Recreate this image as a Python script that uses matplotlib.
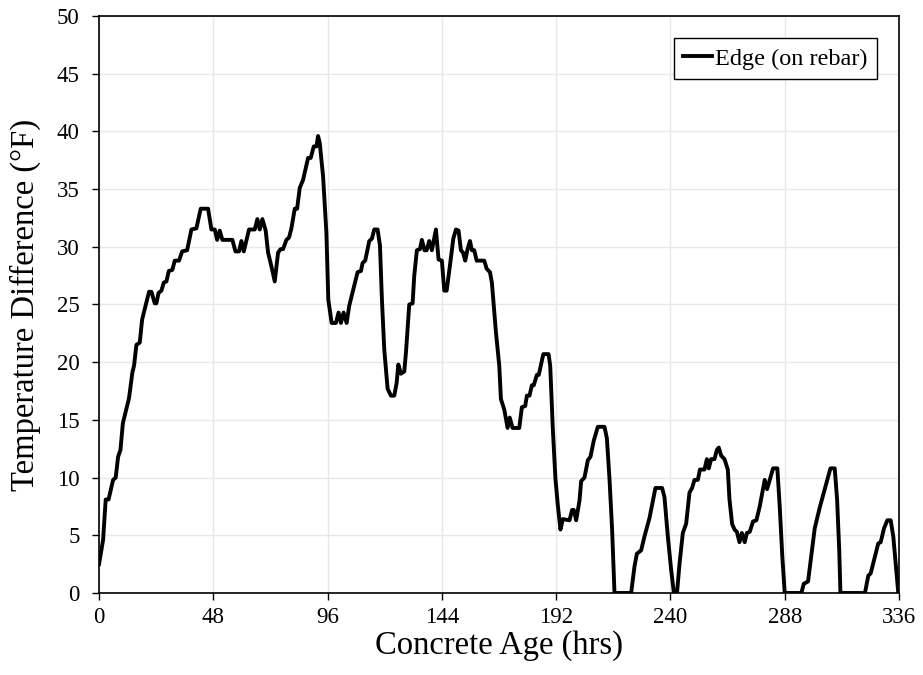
import numpy as np
import matplotlib.pyplot as plt

plt.rcParams['font.family'] = ['Liberation Serif', 'DejaVu Serif']

ageHrs = [0, 1.7, 2.8, 4, 5.9, 7, 8, 9, 10, 12.6, 14, 14.7, 15.7, 17.1, 18.1, 19.2, 21, 22,
          23.4, 24.1, 25, 26.2, 27.2, 28.3, 29.3, 30.8, 31.8, 33.6, 34.9, 37, 38.8, 40.9,
          42.7, 45.8, 47.2, 48.6, 49.6, 50.7, 51.8, 56, 57.3, 58.8, 59.8, 60.8, 63, 65.4,
          66.5, 67.5, 68.6, 70, 71, 72.4, 73.8, 75.2, 76.3, 77.3, 78.7, 79.8, 80.8, 82.2,
          83.2, 84.3, 85.7, 87.8, 88.9, 90.2, 91.3, 92, 92.7, 94.1, 95.5, 96.3, 97.7, 99.5,
          100.6, 101.6, 102.7, 104, 105.1, 106.8, 108.6, 110, 110.7, 111.8, 113.5, 114.6,
          115.6, 117, 118, 118.8, 119.8, 121.2, 122.6, 124, 125, 125.7, 126.8, 128.2, 128.9,
          130.3, 131.7, 132.4, 133.5, 134.8, 135.6, 136.7, 137.6, 138.7, 139.8, 141.5, 142.6,
          144, 145, 146, 147.4, 148.8, 149.9, 151, 152, 152.9, 153.8, 154.8, 155.8, 156.6,
          157.6, 158.6, 161.8, 162.8, 164.2, 165, 166.7, 168.1, 168.8, 170.2, 171.6, 172.5,
          173.7, 176.5, 177.6, 179, 179.7, 180.8, 181.8, 182.6, 183.9, 184.7, 186.6, 188.8,
          189.5, 190.6, 191.7, 192.7, 193.8, 194.8, 197.6, 198.7, 199.4, 200.4, 201.8, 202.5,
          203.9, 205.3, 206.4, 207.8, 209.5, 212.3, 213.3, 214.4, 215.5, 216.5, 223.5, 224.9,
          225.9, 227.7, 229.1, 231.2, 233.7, 236.5, 237.5, 238.9, 240.3, 241.4, 242.8, 243.8,
          245.2, 246.6, 248, 249.1, 250.1, 251.5, 252.4, 254.3, 255.3, 256.1, 257.1, 258.5,
          259.5, 260.3, 261.3, 262.7, 264.1, 264.8, 265.9, 266.9, 267.9, 269, 270, 271.2,
          272.1, 273.3, 274.7, 276.1, 277.5, 279.6, 280.6, 281.7, 283.1, 284.9, 285.9, 287,
          288, 295, 296, 297.8, 299.2, 300.6, 302.7, 305.5, 307.2, 309, 310, 310.9, 311.4,
          321.7, 323.1, 324.1, 325.2, 327.3, 328.3, 329.7, 331.1, 332.5, 333.6, 334.7, 335.7]
tempDiff = [2.5, 4.6, 8.1, 8.1, 9.8, 10, 11.8, 12.4, 14.7, 16.9, 19.1, 19.7, 21.5, 21.7, 23.7,
            24.6, 26.1, 26.1, 25.1, 25.1, 26, 26.2, 26.9, 27, 27.9, 28, 28.8, 28.8, 29.6, 29.7,
            31.5, 31.6, 33.3, 33.3, 31.5, 31.5, 30.6, 31.4, 30.6, 30.6, 29.6, 29.6, 30.5, 29.6,
            31.5, 31.5, 32.4, 31.5, 32.4, 31.4, 29.5, 28.3, 27, 29.5, 29.8, 29.8, 30.6, 30.8,
            31.6, 33.3, 33.3, 35.1, 35.8, 37.7, 37.7, 38.7, 38.7, 39.6, 39, 36.1, 31.2, 25.4,
            23.4, 23.4, 24.3, 23.4, 24.3, 23.4, 24.9, 26.3, 27.8, 27.9, 28.6, 28.8, 30.5, 30.7,
            31.5, 31.5, 30.1, 25.5, 21.1, 17.7, 17.1, 17.1, 18.2, 19.8, 19, 19.2, 20.8, 25,
            25.1, 27.5, 29.7, 29.8, 30.6, 29.7, 29.7, 30.5, 29.7, 31.5, 28.9, 28.8, 26.2, 26.2,
            28.4, 30.7, 31.5, 31.4, 29.7, 29.5, 28.8, 29.8, 30.5, 29.7, 29.7, 28.8, 28.8, 28.1,
            27.8, 26.9, 22.6, 19.7, 16.8, 15.9, 14.3, 15.2, 14.3, 14.3, 16.1, 16.2, 17.1, 17.1,
            18, 18, 18.9, 18.9, 20.7, 20.7, 19.7, 14.2, 9.9, 7.6, 5.5, 6.4, 6.3, 7.2, 7.2, 6.3,
            8, 9.7, 10, 11.5, 11.8, 13.2, 14.4, 14.4, 13.4, 9.9, 5.5, 0, 0, 2.3, 3.4, 3.7, 4.9,
            6.5, 9.1, 9.1, 8.3, 4.9, 2, 0.1, 0.1, 2.5, 5.2, 6, 8.7, 9.1, 9.8, 9.8, 10.7, 10.7,
            11.6, 10.8, 11.6, 11.6, 12.4, 12.6, 11.9, 11.6, 10.7, 8.1, 6, 5.5, 5.3, 4.4, 5.2,
            4.4, 5.2, 5.3, 6.2, 6.3, 7.5, 9.8, 9, 9.8, 10.8, 10.8, 7.5, 3.1, 0, 0, 0.8, 1, 3.3,
            5.6, 7.4, 9.5, 10.8, 10.8, 8.1, 3.7, 0, 0, 1.5, 1.7, 2.6, 4.3, 4.4, 5.6, 6.3, 6.3,
            4.9, 2.3, 0]

xTicks = np.arange(0, 337, 48)
yTicks = np.arange(0, 51, 5)

fig = plt.figure(figsize=(9.23, 6.75), dpi=100)
ax = fig.add_axes([0.1073, 0.1215, 0.8667, 0.8548])

ax.plot(ageHrs, tempDiff, color='black', linewidth=2.8, label='Edge (on rebar)',
        solid_joinstyle='round')

ax.set_xlim(0, 336)
ax.set_ylim(0, 50)
ax.set_xticks(xTicks)
ax.set_yticks(yTicks)
ax.grid(True, color='#e8e8e8', linewidth=1)
ax.set_axisbelow(True)
ax.tick_params(direction='out', length=5, width=1, labelsize=16.5, colors='black')
ax.tick_params(axis='x', pad=5)
ax.tick_params(axis='y', pad=9)
for s in ax.spines.values():
    s.set_color('black')
    s.set_linewidth(1.2)

ax.set_xlabel('Concrete Age (hrs)', fontsize=23.5, labelpad=2)
ax.set_ylabel('Temperature Difference (°F)', fontsize=23.5, labelpad=11)

leg = ax.legend(loc='upper right', fontsize=17.5, handlelength=1.2, handletextpad=0.1,
                fancybox=False, edgecolor='black', framealpha=1, borderaxespad=0.9)
leg.get_frame().set_linewidth(1)

fig.savefig('out.png', dpi=100)
